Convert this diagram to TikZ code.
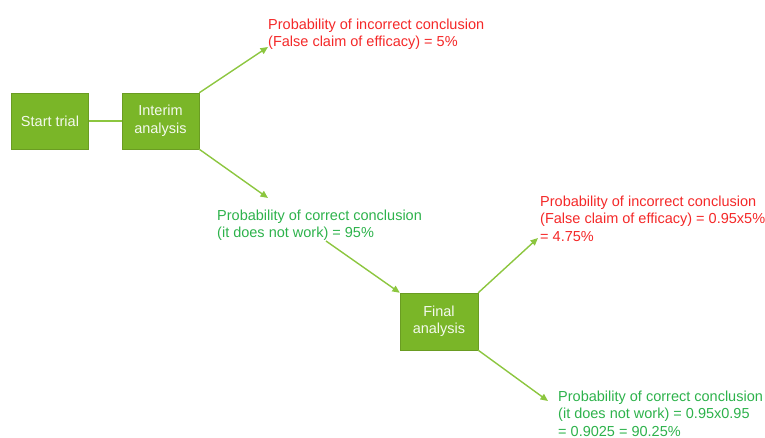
\documentclass[tikz,border=0pt]{standalone}
\usepackage{fontspec}
\setmainfont{Liberation Sans}
\usepackage{xcolor}
\usetikzlibrary{arrows.meta, positioning, calc}
\definecolor{boxgreen}{HTML}{7AB628}
\definecolor{boxedge}{HTML}{6A9C22}
\definecolor{linegreen}{HTML}{8CC63F}
\definecolor{txtgreen}{HTML}{2DB24B}
\definecolor{txtred}{HTML}{F42828}

\begin{document}
\begin{tikzpicture}[x=1pt, y=-1pt,
    box/.style={rectangle, draw=boxedge, fill=boxgreen, text=white!92!boxgreen,
        minimum width=77pt, minimum height=56pt, inner sep=0pt, align=center,
        font=\fontsize{14.5}{17.5}\selectfont},
    note/.style={anchor=north west, inner sep=0pt, align=left,
        font=\fontsize{14.5}{17.5}\selectfont},
    link/.style={draw=linegreen, line width=1.4pt},
    arr/.style={link, -{Triangle[length=7.5pt, width=6.5pt]}}]
    \useasboundingbox (0,0) rectangle (765,438);
    % boxes
    \node[box] (start) at (50,121) {Start trial};
    \node[box] (interim) at (160.5,121) {Interim\\analysis};
    \node[box, minimum width=78pt, minimum height=57pt] (final) at (439,321.5) {Final\\analysis};
    % outcome texts
    \node[note, text=txtred] (wrong1) at (268,18.5)
        {Probability of incorrect conclusion\\(False claim of efficacy) = 5\%};
    \node[note, text=txtgreen] (right1) at (217,209.5)
        {Probability of correct conclusion\\(it does not work) = 95\%};
    \node[note, text=txtred] (wrong2) at (540,195.5)
        {Probability of incorrect conclusion\\(False claim of efficacy) = 0.95x5\%\\= 4.75\%};
    \node[note, text=txtgreen] (right2) at (558,390.5)
        {Probability of correct conclusion\\(it does not work) = 0.95x0.95\\= 0.9025 = 90.25\%};
    % arrow ends
    \coordinate (tipA) at (268,47);
    \coordinate (tipB) at (268,198);
    \coordinate (fromB) at (326,241);
    \coordinate (tipC) at (538,238);
    \coordinate (tipD) at (548,401);
    \draw[link] (start) -- (interim);
    \draw[arr] (interim.north east) -- (tipA);
    \draw[arr] (interim.south east) -- (tipB);
    \draw[arr] (fromB) -- (final.north west);
    \draw[arr] (final.north east) -- (tipC);
    \draw[arr] (final.south east) -- (tipD);
\end{tikzpicture}
\end{document}
